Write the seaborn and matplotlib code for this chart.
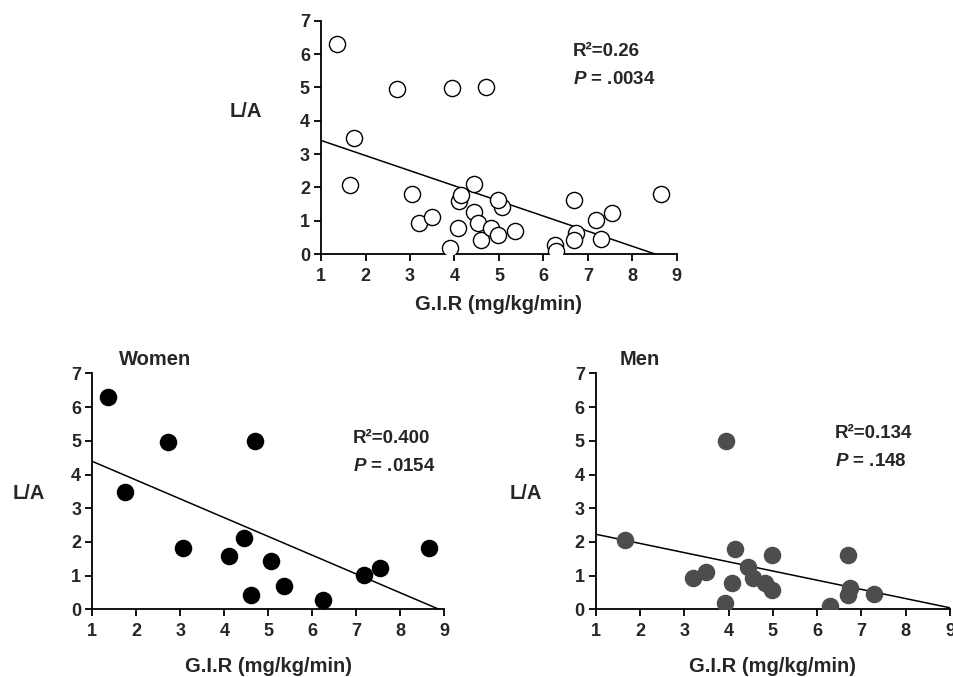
import numpy as np
import matplotlib
matplotlib.use('Agg')
import matplotlib.pyplot as plt
import seaborn as sns

# G.I.R vs L/A
women_gir = [1.36, 2.71, 4.70, 1.74, 3.05, 4.11, 4.44, 5.06, 4.60, 5.36, 6.25, 7.18, 7.54, 8.65]
women_la = [6.29, 4.95, 5.00, 3.47, 1.81, 1.58, 2.11, 1.42, 0.42, 0.69, 0.28, 1.02, 1.22, 1.81]

men_gir = [1.66, 3.95, 3.20, 3.49, 3.91, 4.08, 4.15, 4.43, 4.54, 4.82, 4.97, 4.99, 6.29, 6.69, 6.74, 6.69, 7.29]
men_la = [2.06, 4.98, 0.94, 1.12, 0.18, 0.79, 1.78, 1.25, 0.92, 0.77, 0.57, 1.61, 0.10, 1.61, 0.62, 0.43, 0.45]

all_gir = women_gir + men_gir
all_la = women_la + men_la

stats_all = ['R\u00b2=0.26', '$P$ = .0034']
stats_women = ['R\u00b2=0.400', '$P$ = .0154']
stats_men = ['R\u00b2=0.134', '$P$ = .148']

sns.set_style('ticks')
plt.rcParams['font.family'] = ['Liberation Sans', 'DejaVu Sans']
plt.rcParams['mathtext.fontset'] = 'custom'
plt.rcParams['mathtext.it'] = 'Liberation Sans:italic:bold'
plt.rcParams['mathtext.rm'] = 'Liberation Sans:bold'

fig = plt.figure(figsize=(9.54, 6.77), dpi=100)


def panel(rect, x, y, face, edge, stats, stat_pos, la_pos, xpad, title=None, title_x=0.07):
    ax = fig.add_axes(rect)
    ax.set_xlim(1, 9)
    ax.set_ylim(0, 7)
    sns.regplot(x=np.array(x), y=np.array(y), ax=ax, ci=None, truncate=False,
                scatter_kws=dict(s=135, facecolor=face, edgecolor=edge, linewidths=1.0, alpha=1, zorder=3),
                line_kws=dict(color='black', lw=1.1, zorder=2))
    ax.set_xlim(1, 9)
    ax.set_ylim(0, 7)
    ax.set_xticks(range(1, 10))
    ax.set_yticks(range(0, 8))
    sns.despine(ax=ax)
    for s in ['left', 'bottom']:
        ax.spines[s].set_linewidth(1.3)
        ax.spines[s].set_color('black')
    ax.tick_params(length=5, width=1.3, color='black', labelsize=13)
    ax.tick_params(axis='x', pad=5)
    ax.tick_params(axis='y', pad=3)
    for lab in ax.get_xticklabels() + ax.get_yticklabels():
        lab.set_fontweight('bold')
    ax.set_xlabel('G.I.R (mg/kg/min)', fontsize=14.5, fontweight='bold', labelpad=xpad)
    ax.set_ylabel('L/A', fontsize=14.5, fontweight='bold', rotation=0, ha='right', va='center')
    ax.yaxis.set_label_coords(la_pos[0], la_pos[1])
    ax.text(stat_pos[0], stat_pos[1], stats[0], transform=ax.transAxes, fontsize=13.5,
            fontweight='bold', va='center')
    ax.text(stat_pos[0], stat_pos[1] - 0.12, stats[1], transform=ax.transAxes, fontsize=13.5,
            fontweight='bold', va='center')
    if title:
        ax.text(title_x, 1.06, title, transform=ax.transAxes, fontsize=14.5, fontweight='bold', va='center')
    return ax


panel([0.3365, 0.6248, 0.373, 0.3446], all_gir, all_la, 'white', 'black',
      stats_all, (0.708, 0.866), (-0.166, 0.613), 7)
panel([0.0968, 0.0999, 0.369, 0.3486], women_gir, women_la, 'black', 'black',
      stats_women, (0.74, 0.726), (-0.134, 0.49), 12, title='Women', title_x=0.076)
panel([0.6247, 0.0999, 0.371, 0.3486], men_gir, men_la, '#4d4d4d', '#4d4d4d',
      stats_men, (0.675, 0.747), (-0.153, 0.49), 12, title='Men', title_x=0.068)

fig.savefig('out.png', dpi=100)
